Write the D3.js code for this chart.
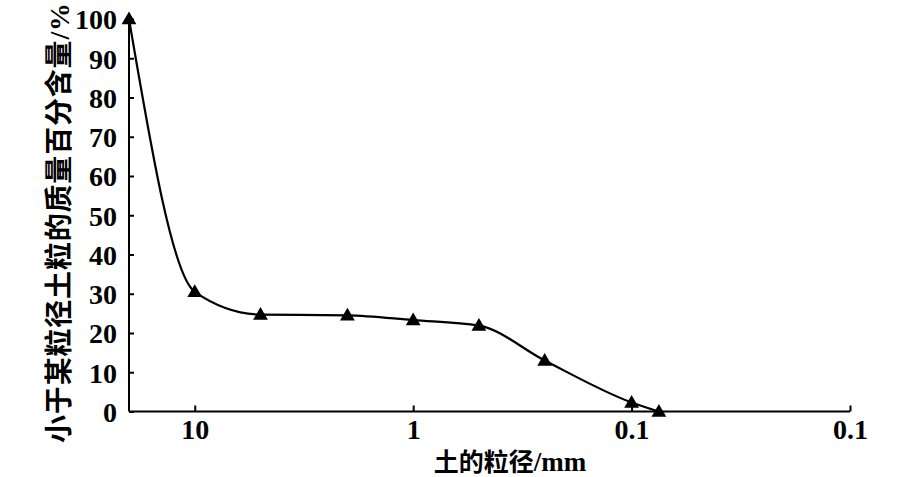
<!DOCTYPE html>
<html>
<head>
<meta charset="utf-8" />
<title>土的粒径分布曲线</title>
<script src="https://d3js.org/d3.v7.min.js"></script>
<style>
	body { margin: 0; background: #fff; }
	.tick text { font-family: 'Liberation Serif', serif; font-weight: bold; font-size: 28px; fill: #000; }
	.axis path, .axis line { stroke: #000; stroke-width: 2px; }
	.title { font-family: 'Noto Sans CJK SC', sans-serif; font-weight: 600; fill: #000; }
	.latin { font-family: 'Liberation Serif', serif; font-weight: bold; }
</style>
</head>
<body>
<script>
	// particle size (mm) and percent finer
	var sizes = [20, 10, 5, 2, 1, 0.5, 0.25, 0.1, 0.075];
	var finer = [100, 30.5, 24.7, 24.5, 23.3, 21.9, 13, 2.3, 0];
	var xTicks = [10, 1, 0.1, 0.01];
	var xTickLabels = ["10", "1", "0.1", "0.1"];
	var yTicks = [0, 10, 20, 30, 40, 50, 60, 70, 80, 90, 100];

	var width = 898, height = 477;
	var svg = d3.select("body").append("svg")
		.attr("width", width)
		.attr("height", height);

	var x = d3.scaleLog().domain([20, 0.01]).range([129, 850]);
	var y = d3.scaleLinear().domain([0, 100]).range([411.5, 19]);

	// y axis
	var yAxis = svg.append("g")
		.attr("class", "axis")
		.attr("transform", "translate(129,0)")
		.call(d3.axisRight(y).tickValues(yTicks).tickSize(5).tickSizeOuter(0));
	yAxis.select(".domain").attr("d", "M0," + y(100) + "V" + y(0));
	yAxis.selectAll(".tick text")
		.attr("text-anchor", "end")
		.attr("x", -12)
		.attr("dy", "0.35em");

	// x axis
	var xAxis = svg.append("g")
		.attr("class", "axis")
		.attr("transform", "translate(0," + y(0) + ")")
		.call(d3.axisTop(x).tickValues(xTicks).tickSize(6).tickSizeOuter(0)
			.tickFormat(function(d, i) { return xTickLabels[i]; }));
	xAxis.select(".domain").attr("d", "M129,0H850");
	xAxis.selectAll(".tick text")
		.attr("y", 27)
		.attr("dy", 0);

	// smoothed curve
	var pts = sizes.map(function(s, i) { return [s, finer[i]]; });
	var line = d3.line()
		.x(function(d) { return x(d[0]); })
		.y(function(d) { return y(d[1]); })
		.curve(d3.curveMonotoneX);
	svg.append("path")
		.datum(pts)
		.attr("d", line)
		.attr("fill", "none")
		.attr("stroke", "#000")
		.attr("stroke-width", 2.2);

	// triangle markers
	var tri = d3.symbol().type(d3.symbolTriangle).size(95);
	svg.selectAll(".mark")
		.data(pts).enter().append("path")
		.attr("class", "mark")
		.attr("d", tri)
		.attr("transform", function(d) { return "translate(" + x(d[0]) + "," + (y(d[1]) + 1) + ")"; })
		.attr("fill", "#000");

	// axis titles
	var yt = svg.append("text")
		.attr("class", "title")
		.attr("transform", "translate(69,223) rotate(-90)")
		.attr("text-anchor", "middle")
		.style("font-size", "28px")
		.attr("textLength", 440)
		.attr("lengthAdjust", "spacing");
	yt.append("tspan").text("小于某粒径土粒的质量百分含量");
	yt.append("tspan").attr("class", "latin").text("/%");

	var xt = svg.append("text")
		.attr("class", "title")
		.attr("x", 510)
		.attr("y", 471)
		.attr("text-anchor", "middle")
		.style("font-size", "25px");
	xt.append("tspan").text("土的粒径");
	xt.append("tspan").attr("class", "latin").style("font-size", "27px").text("/mm");
</script>
</body>
</html>
